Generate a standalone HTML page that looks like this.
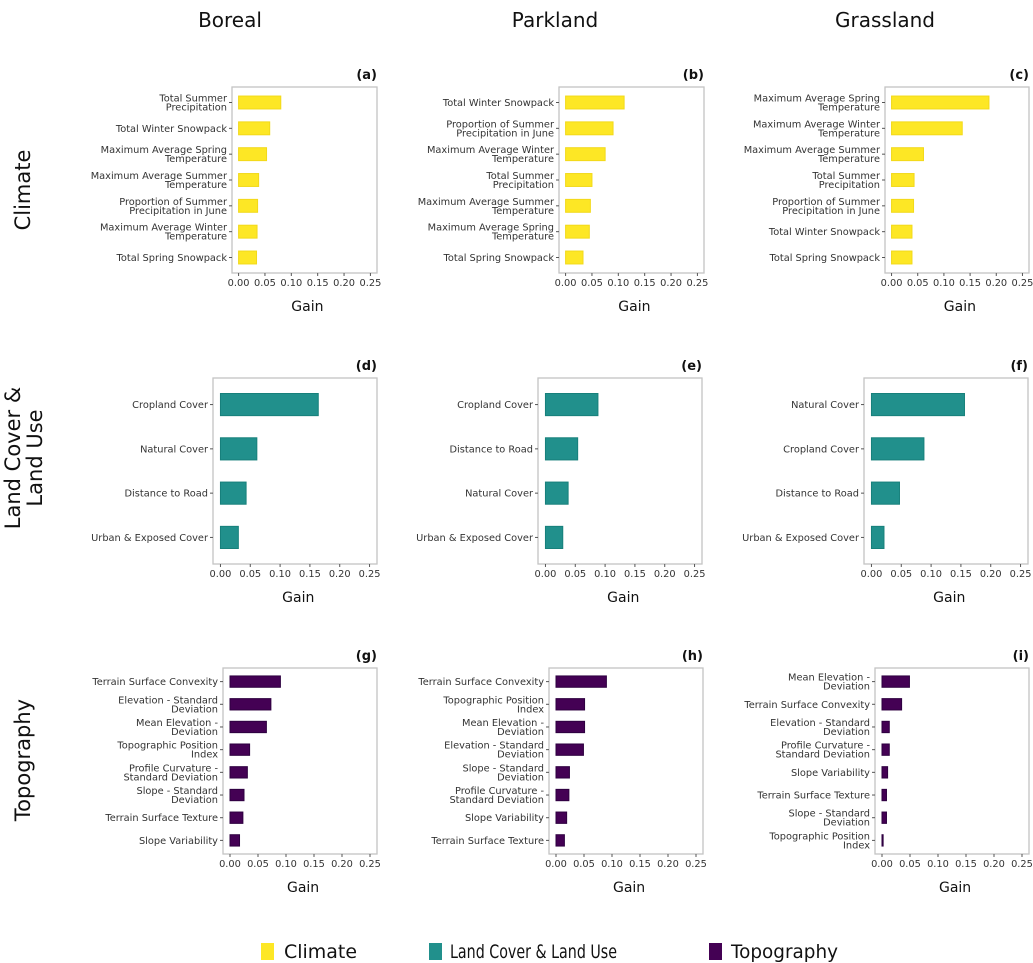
<!DOCTYPE html>
<html><head><meta charset="utf-8"><style>
body{margin:0;background:#fff;}
svg{display:block;font-family:"DejaVu Sans","Liberation Sans",sans-serif;}
</style></head><body>
<svg id="c" width="1033" height="963" viewBox="0 0 1033 963">
<text x="230" y="27" font-size="20" text-anchor="middle" fill="#111">Boreal</text>
<text x="555" y="27" font-size="20" text-anchor="middle" fill="#111">Parkland</text>
<text x="885" y="27" font-size="20" text-anchor="middle" fill="#111">Grassland</text>
<text transform="translate(30,190) rotate(-90)" font-size="21" text-anchor="middle" fill="#111">Climate</text>
<text transform="translate(20,458) rotate(-90)" font-size="21" text-anchor="middle" fill="#111">Land Cover &amp;</text>
<text transform="translate(42,458) rotate(-90)" font-size="21" text-anchor="middle" fill="#111">Land Use</text>
<text transform="translate(30,760) rotate(-90)" font-size="21" text-anchor="middle" fill="#111">Topography</text>
<g>
<rect x="261" y="943" width="13" height="17" fill="#FDE725"/>
<text x="284" y="958" font-size="19" fill="#111" textLength="73" lengthAdjust="spacingAndGlyphs">Climate</text>
<rect x="429" y="943" width="13" height="17" fill="#21908C"/>
<text x="450" y="958" font-size="19" fill="#111" textLength="167" lengthAdjust="spacingAndGlyphs">Land Cover &amp; Land Use</text>
<rect x="709" y="943" width="13" height="17" fill="#440154"/>
<text x="731" y="958" font-size="19" fill="#111" textLength="107" lengthAdjust="spacingAndGlyphs">Topography</text>
</g>
</svg>
<script>
const tickLabels = ["0.00","0.05","0.10","0.15","0.20","0.25"];
const tickValues = [0,0.05,0.10,0.15,0.20,0.25];
const catsA = ["Total Summer\nPrecipitation","Total Winter Snowpack","Maximum Average Spring\nTemperature","Maximum Average Summer\nTemperature","Proportion of Summer\nPrecipitation in June","Maximum Average Winter\nTemperature","Total Spring Snowpack"];
const valsA = [0.080,0.059,0.053,0.038,0.036,0.035,0.034];
const catsB = ["Total Winter Snowpack","Proportion of Summer\nPrecipitation in June","Maximum Average Winter\nTemperature","Total Summer\nPrecipitation","Maximum Average Summer\nTemperature","Maximum Average Spring\nTemperature","Total Spring Snowpack"];
const valsB = [0.111,0.090,0.075,0.050,0.047,0.045,0.033];
const catsC = ["Maximum Average Spring\nTemperature","Maximum Average Winter\nTemperature","Maximum Average Summer\nTemperature","Total Summer\nPrecipitation","Proportion of Summer\nPrecipitation in June","Total Winter Snowpack","Total Spring Snowpack"];
const valsC = [0.186,0.135,0.061,0.043,0.042,0.039,0.039];
const catsD = ["Cropland Cover","Natural Cover","Distance to Road","Urban & Exposed Cover"];
const valsD = [0.164,0.061,0.043,0.030];
const catsE = ["Cropland Cover","Distance to Road","Natural Cover","Urban & Exposed Cover"];
const valsE = [0.088,0.054,0.038,0.029];
const catsF = ["Natural Cover","Cropland Cover","Distance to Road","Urban & Exposed Cover"];
const valsF = [0.156,0.088,0.047,0.021];
const catsG = ["Terrain Surface Convexity","Elevation - Standard\nDeviation","Mean Elevation -\nDeviation","Topographic Position\nIndex","Profile Curvature -\nStandard Deviation","Slope - Standard\nDeviation","Terrain Surface Texture","Slope Variability"];
const valsG = [0.090,0.073,0.065,0.035,0.031,0.025,0.023,0.017];
const catsH = ["Terrain Surface Convexity","Topographic Position\nIndex","Mean Elevation -\nDeviation","Elevation - Standard\nDeviation","Slope - Standard\nDeviation","Profile Curvature -\nStandard Deviation","Slope Variability","Terrain Surface Texture"];
const valsH = [0.090,0.051,0.051,0.049,0.024,0.023,0.019,0.015];
const catsI = ["Mean Elevation -\nDeviation","Terrain Surface Convexity","Elevation - Standard\nDeviation","Profile Curvature -\nStandard Deviation","Slope Variability","Terrain Surface Texture","Slope - Standard\nDeviation","Topographic Position\nIndex"];
const valsI = [0.049,0.035,0.013,0.013,0.010,0.008,0.008,0.002];

const NS="http://www.w3.org/2000/svg";
const svg=document.getElementById('c');
const COL={clim:["#FDE725","#f2d91a"],land:["#21908C","#17807b"],topo:["#440154","#2e0040"]};
const panels=[
 {id:"a",cats:catsA,vals:valsA,L:232,R:377,T:87,B:273,c:"clim"},
 {id:"b",cats:catsB,vals:valsB,L:559,R:704,T:87,B:273,c:"clim"},
 {id:"c",cats:catsC,vals:valsC,L:885,R:1029,T:87,B:273,c:"clim"},
 {id:"d",cats:catsD,vals:valsD,L:213,R:377,T:378,B:564,c:"land"},
 {id:"e",cats:catsE,vals:valsE,L:538,R:702,T:378,B:564,c:"land"},
 {id:"f",cats:catsF,vals:valsF,L:864,R:1028,T:378,B:564,c:"land"},
 {id:"g",cats:catsG,vals:valsG,L:223,R:377,T:668,B:854,c:"topo"},
 {id:"h",cats:catsH,vals:valsH,L:549,R:703,T:668,B:854,c:"topo"},
 {id:"i",cats:catsI,vals:valsI,L:875,R:1029,T:668,B:854,c:"topo"}
];
function mk(tag,attrs,parent){const e=document.createElementNS(NS,tag);for(const k in attrs)e.setAttribute(k,attrs[k]);(parent||svg).appendChild(e);return e;}
panels.forEach(p=>{
 const g=mk('g',{});
 
 
 const xs=v=>p.L+(v+0.0125)/0.275*(p.R-p.L);
 const n=p.cats.length;
 const step=(p.B-p.T)/(n+0.2);
 const ys=i=>p.T+step*(0.6+i);
 const frame=mk('rect',{x:p.L,y:p.T,width:p.R-p.L,height:p.B-p.T,fill:"none",stroke:"#c4c4c4","stroke-width":1.3},g);
 
 
 const pl=mk('text',{x:p.R,y:p.T-8,"font-size":13,"font-weight":"bold","text-anchor":"end",fill:"#111"},g);
 pl.textContent="("+p.id+")";
 
 
 p.vals.forEach((v,i)=>{
  const y=ys(i),h=step*0.5;
  const r=mk('rect',{x:xs(0),y:y-h/2,width:xs(v)-xs(0),height:h,fill:COL[p.c][0],stroke:COL[p.c][1],"stroke-width":1},g);
  
  
 });
 p.cats.forEach((c,i)=>{
  const y=ys(i);
  mk('line',{x1:p.L-3,x2:p.L,y1:y,y2:y,stroke:"#555","stroke-width":1},g);
  const lines=c.split("\n");
  const t=mk('text',{x:p.L-5,y:y,"font-size":9.8,"text-anchor":"end",fill:"#333"},g);
  
  
  lines.forEach((ln,k)=>{
   const ts=mk('tspan',{x:p.L-5,y:y+3.5+(k-(lines.length-1)/2)*9},t);
   ts.textContent=ln;
  });
 });
 tickValues.forEach((v,i)=>{
  const x=xs(v);
  mk('line',{x1:x,x2:x,y1:p.B,y2:p.B+3,stroke:"#555","stroke-width":1},g);
  const t=mk('text',{x:x,y:p.B+13,"font-size":9.8,"text-anchor":"middle",fill:"#333"},g);
  t.textContent=tickLabels[i];
  
  
 });
 const gl=mk('text',{x:(p.L+p.R)/2+(p.R-p.L)*0.02,y:p.B+38,"font-size":14,"text-anchor":"middle",fill:"#111"},g);
 gl.textContent="Gain";
 
 
});
</script>
</body></html>
